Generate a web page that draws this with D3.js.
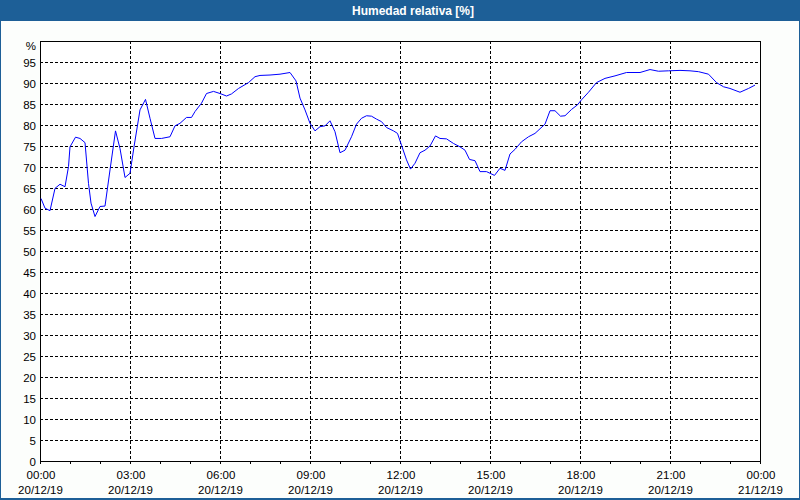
<!DOCTYPE html>
<html>
<head>
<meta charset="utf-8">
<script src="https://cdn.jsdelivr.net/npm/d3@7"></script>
<style>
  html, body { margin: 0; padding: 0; background: #fcfefc; }
  svg { display: block; }
  text { font-family: "Liberation Sans", Arial, sans-serif; }
</style>
</head>
<body>
<svg id="chart" width="800" height="500"></svg>
<script>
// ---- data ----
const title = "Humedad relativa [%]";
const yUnit = "%";
// minutes since 20/12/19 00:00
const minutes = [2,10,20,30,40,50,57,60,71,80,90,97,102,110,120,130,140,151,160,170,180,188,200,211,220,230,243,260,270,280,293,303,310,323,333,347,360,373,383,397,417,430,440,460,480,500,512,520,530,540,550,560,570,580,590,600,610,623,633,643,653,663,673,683,693,707,715,723,733,741,750,760,770,780,791,800,813,827,840,850,859,870,880,893,909,920,930,940,950,963,977,990,1010,1020,1030,1041,1050,1063,1075,1083,1097,1113,1130,1150,1173,1200,1220,1237,1257,1280,1300,1317,1337,1353,1367,1380,1400,1417,1430];
const humidity = [62.5,60.2,59.6,64.9,65.9,65.3,70.1,74.8,77.1,76.8,75.8,66.1,61.4,58.2,60.6,60.7,69.3,78.6,74.4,67.5,68.5,74.8,83.6,86.1,81.6,76.8,76.8,77.2,79.8,80.4,81.8,81.8,83.2,85.2,87.5,88.0,87.5,86.9,87.4,88.7,90.1,91.5,91.8,91.9,92.1,92.5,90.5,86.4,83.6,80.4,78.6,79.6,79.8,81.0,78.4,73.4,74.0,77.2,80.2,81.6,82.2,82.1,81.4,80.8,79.4,78.6,78.0,75.2,71.7,69.5,70.9,73.4,74.0,75.0,77.4,76.8,76.7,75.6,74.8,74.0,71.8,71.5,68.9,68.9,68.0,69.7,69.2,73.1,74.2,76.0,77.2,78.0,80.2,83.4,83.4,82.1,82.2,83.7,84.8,86.0,87.8,90.1,91.1,91.7,92.5,92.5,93.2,92.8,92.9,93.0,92.9,92.7,92.1,90.1,89.1,88.7,87.8,88.7,89.5];
const yTicks = [0,5,10,15,20,25,30,35,40,45,50,55,60,65,70,75,80,85,90,95];
const xTickHours = [0,3,6,9,12,15,18,21,24];
const xMinorHours = d3.range(0, 25);

// ---- layout ----
const svg = d3.select("#chart");
const W = 800, H = 500;
const pL = 40, pR = 760, pT = 41, pB = 461;
const t0 = new Date(2019, 11, 20, 0, 0);
const t1 = new Date(2019, 11, 21, 0, 0);
const x = d3.scaleTime().domain([t0, t1]).range([pL, pR]);
const y = d3.scaleLinear().domain([0, 100]).range([pB, pT]);
const toDate = m => new Date(t0.getTime() + m * 60000);
const data = minutes.map((m, i) => ({ t: toDate(m), v: humidity[i] }));

// background
svg.append("rect").attr("width", W).attr("height", H).attr("fill", "#fcfefc");

// title bar
svg.append("rect").attr("x", 0).attr("y", 0).attr("width", W).attr("height", 21).attr("fill", "#1d5f97");
svg.append("text").attr("x", 413).attr("y", 15).attr("text-anchor", "middle")
  .attr("fill", "#ffffff").attr("font-weight", "bold").attr("font-size", "12px").text(title);

// window frame
svg.append("rect").attr("x", 0).attr("y", 21).attr("width", 1).attr("height", H - 21).attr("fill", "#1d5f97");
svg.append("rect").attr("x", W - 1).attr("y", 21).attr("width", 1).attr("height", H - 21).attr("fill", "#1d5f97");
svg.append("rect").attr("x", 0).attr("y", H - 2).attr("width", W).attr("height", 2).attr("fill", "#1d5f97");

// plot area background
svg.append("rect").attr("x", pL).attr("y", pT).attr("width", pR - pL).attr("height", pB - pT).attr("fill", "#ffffff");

// horizontal grid
svg.append("g").selectAll("line").data(yTicks.filter(d => d > 0)).join("line")
  .attr("x1", pL).attr("x2", pR)
  .attr("y1", d => Math.round(y(d)) + 0.5).attr("y2", d => Math.round(y(d)) + 0.5)
  .attr("stroke", "#000").attr("stroke-width", 1).attr("stroke-dasharray", "3,2")
  .attr("shape-rendering", "crispEdges");

// vertical grid
svg.append("g").selectAll("line").data(xTickHours.filter(h => h > 0 && h < 24)).join("line")
  .attr("x1", h => Math.round(x(toDate(h * 60))) + 0.5).attr("x2", h => Math.round(x(toDate(h * 60))) + 0.5)
  .attr("y1", pT).attr("y2", pB)
  .attr("stroke", "#000").attr("stroke-width", 1).attr("stroke-dasharray", "3,2")
  .attr("shape-rendering", "crispEdges");

// minor x ticks
svg.append("g").selectAll("line").data(xMinorHours).join("line")
  .attr("x1", h => Math.round(x(toDate(h * 60))) + 0.5).attr("x2", h => Math.round(x(toDate(h * 60))) + 0.5)
  .attr("y1", pB).attr("y2", pB + 3)
  .attr("stroke", "#000").attr("shape-rendering", "crispEdges");

// frame
svg.append("rect").attr("x", pL + 0.5).attr("y", pT + 0.5).attr("width", pR - pL).attr("height", pB - pT)
  .attr("fill", "none").attr("stroke", "#000").attr("stroke-width", 1).attr("shape-rendering", "crispEdges");

// y labels
svg.append("g").selectAll("text").data(yTicks).join("text")
  .attr("x", 36).attr("y", d => y(d) + 4.5).attr("text-anchor", "end")
  .attr("font-size", "11.5px").attr("fill", "#000").text(d => d);
svg.append("text").attr("x", 36).attr("y", 50).attr("text-anchor", "end")
  .attr("font-size", "11.5px").attr("fill", "#000").text(yUnit);

// x labels
const fmtTime = d3.timeFormat("%H:%M");
const fmtDate = d3.timeFormat("%d/%m/%y");
const xl = svg.append("g").selectAll("g").data(xTickHours).join("g");
xl.append("text").attr("x", h => x(toDate(h * 60)) + 1).attr("y", 479).attr("text-anchor", "middle")
  .attr("font-size", "11.5px").attr("fill", "#000").text(h => fmtTime(toDate(h * 60)));
xl.append("text").attr("x", h => x(toDate(h * 60)) + 0.5).attr("y", 494).attr("text-anchor", "middle")
  .attr("font-size", "11.5px").attr("fill", "#000").text(h => fmtDate(toDate(h * 60)));

// line
const line = d3.line().x(d => x(d.t)).y(d => y(d.v));
svg.append("path").datum(data).attr("d", line)
  .attr("fill", "none").attr("stroke", "#0000ff").attr("stroke-width", 1);
</script>
</body>
</html>
